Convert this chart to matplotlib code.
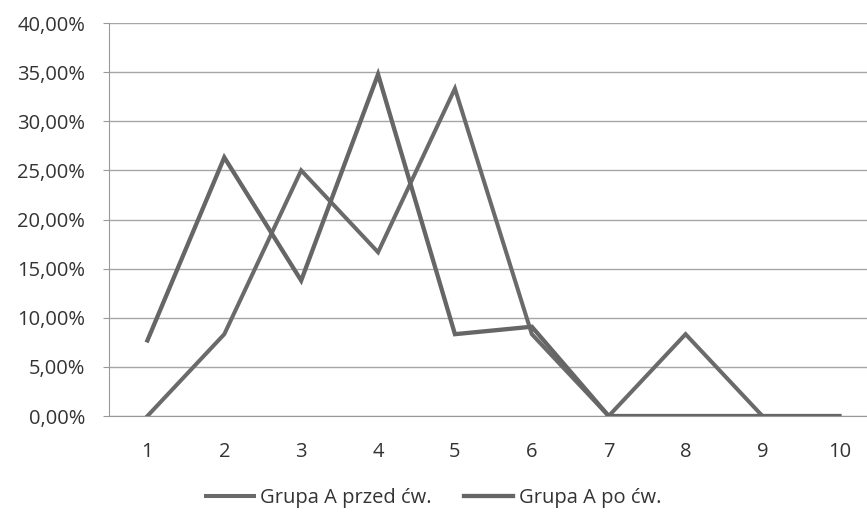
import matplotlib
matplotlib.use("Agg")
import matplotlib.pyplot as plt
from matplotlib.ticker import FuncFormatter, MultipleLocator

plt.rcParams["font.family"] = ["Open Sans", "DejaVu Sans"]

categories = [1, 2, 3, 4, 5, 6, 7, 8, 9, 10]
przed = [0.0, 8.33, 25.0, 16.67, 33.33, 8.33, 0.0, 8.33, 0.0, 0.0]
po = [7.69, 26.32, 13.79, 34.78, 8.33, 9.09, 0.0, 0.0, 0.0, 0.0]
labels = ["Grupa A przed ćw.", "Grupa A po ćw."]

fig = plt.figure(figsize=(8.67, 5.15), dpi=100)
ax = fig.add_axes([0.1257, 0.1922, 0.8743, 0.7631])

ax.plot(categories, przed, color="#6a6a6a", lw=2.9, label=labels[0],
        solid_joinstyle="miter", zorder=3)
ax.plot(categories, po, color="#666666", lw=3.1, label=labels[1],
        solid_joinstyle="miter", zorder=3)

ax.set_xlim(0.5, 10.36)
ax.set_ylim(0, 40)
ax.yaxis.set_major_locator(MultipleLocator(5))
ax.yaxis.set_major_formatter(
    FuncFormatter(lambda v, _: f"{v:.2f}".replace(".", ",") + "%"))
ax.set_xticks(categories)
ax.grid(axis="y", color="#a6a6a6", lw=1)
ax.set_axisbelow(True)
for s in ["top", "right"]:
    ax.spines[s].set_visible(False)
for s in ["left", "bottom"]:
    ax.spines[s].set_color("#999999")
ax.tick_params(axis="y", length=4, color="#999999", labelsize=14.5,
               labelcolor="#333333", pad=13)
ax.tick_params(axis="x", length=0, labelsize=14.5, labelcolor="#333333", pad=19)

fig.legend(loc="center", bbox_to_anchor=(0.5, 0.033), ncol=2, frameon=False,
           fontsize=14.5, handlelength=2.4, handletextpad=0.3, columnspacing=1.6,
           labelcolor="#333333")

fig.savefig("out.png", dpi=100)
